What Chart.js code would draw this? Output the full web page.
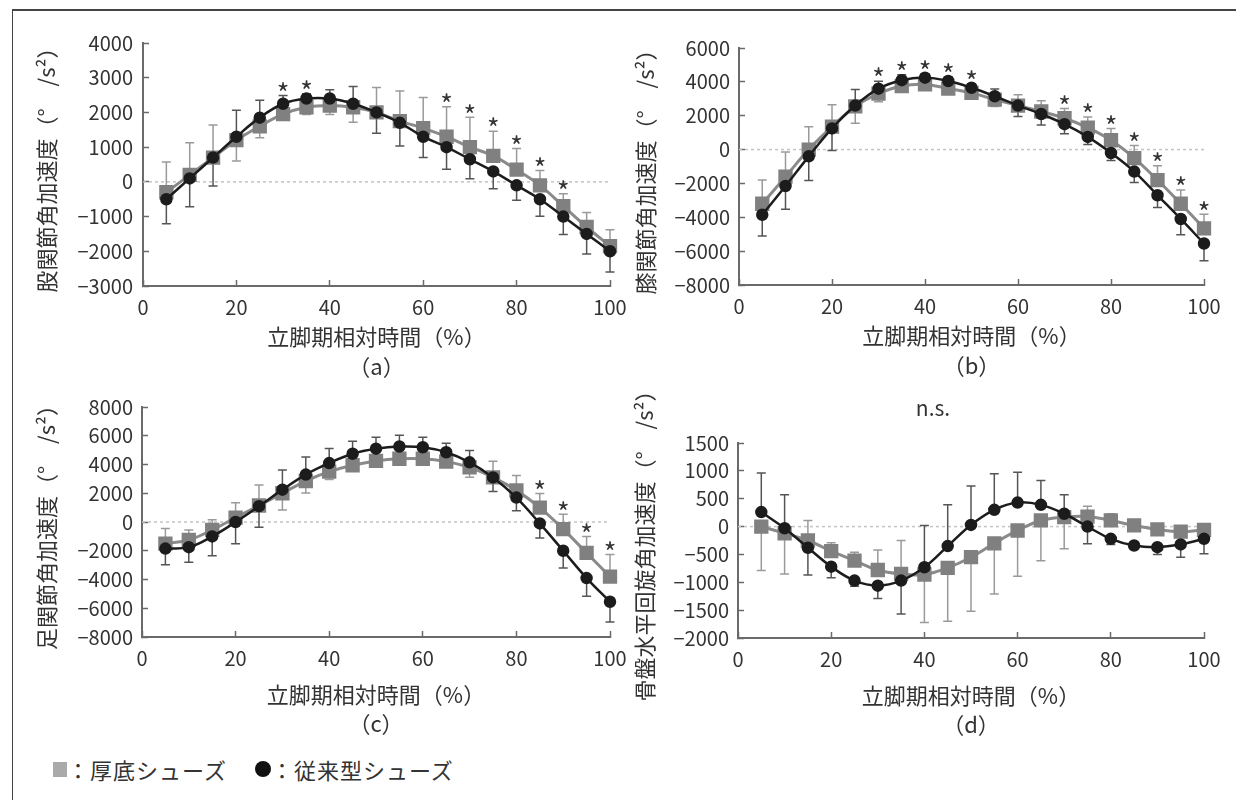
<!DOCTYPE html>
<html>
<head>
<meta charset="utf-8">
<script src="https://cdn.jsdelivr.net/npm/chart.js@4.4.1/dist/chart.umd.min.js"></script>
<style>
  body { margin: 0; background: #fff; }
  #fig { position: relative; width: 1236px; height: 800px; overflow: hidden; background: #fff;
         font-family: "Noto Sans CJK JP", sans-serif; color: #333; }
  #frame { position: absolute; left: 12px; top: 9px; right: 0; bottom: 0;
           border-left: 1.5px solid #444; border-top: 2px solid #444; }
  canvas { position: absolute; }
  #legend { position: absolute; left: 53px; top: 757px; height: 24px; display: flex; align-items: center;
            font-size: 22px; letter-spacing: 1px; white-space: nowrap; }
  .sq { width: 14px; height: 15px; background: #aaa; display: inline-block; }
  .dot { width: 16px; height: 16px; border-radius: 50%; background: #111; display: inline-block; margin-left: 28px; }
</style>
</head>
<body>
<div id="fig">
  <div id="frame"></div>
  <canvas id="cA" width="640" height="385" style="left:0;top:0"></canvas>
  <canvas id="cB" width="606" height="385" style="left:630px;top:0"></canvas>
  <canvas id="cC" width="640" height="360" style="left:0;top:380px"></canvas>
  <canvas id="cD" width="606" height="360" style="left:630px;top:380px"></canvas>
  <div id="legend"><span class="sq"></span>：厚底シューズ<span class="dot"></span>：従来型シューズ</div>
</div>
<script>
// stance phase time (%)
const timePct = [5, 10, 15, 20, 25, 30, 35, 40, 45, 50, 55, 60, 65, 70, 75, 80, 85, 90, 95, 100];

// (a) hip
const hipThick   = [-300, 200, 700, 1200, 1600, 1950, 2150, 2200, 2150, 2000, 1750, 1550, 1300, 1000, 750, 350, -100, -700, -1300, -1850];
const hipConv    = [-500, 100, 700, 1300, 1850, 2250, 2400, 2400, 2250, 2000, 1700, 1300, 1000, 650, 300, -100, -500, -1000, -1500, -2000];
const hipThickSd = [870, 930, 940, 600, 330, 150, 210, 260, 430, 720, 870, 880, 860, 860, 710, 610, 430, 360, 420, 470];
const hipConvSd  = [710, 820, 820, 760, 500, 240, 140, 250, 500, 600, 670, 600, 640, 560, 500, 430, 490, 520, 580, 600];
const hipStars   = [30, 35, 65, 70, 75, 80, 85, 90];

// (b) knee
const kneeThick   = [-3200, -1600, 0, 1350, 2550, 3300, 3750, 3850, 3600, 3350, 2950, 2600, 2250, 1850, 1300, 550, -500, -1800, -3200, -4650];
const kneeConv    = [-3850, -2150, -400, 1250, 2600, 3600, 4100, 4250, 4050, 3650, 3150, 2600, 2100, 1500, 750, -200, -1300, -2700, -4100, -5550];
const kneeThickSd = [1400, 1460, 1350, 1300, 1000, 470, 230, 310, 320, 270, 400, 640, 640, 580, 630, 700, 740, 840, 810, 830];
const kneeConvSd  = [1250, 1370, 1430, 1300, 950, 440, 320, 230, 230, 230, 430, 650, 650, 560, 450, 440, 650, 720, 930, 1020];
const kneeStars   = [30, 35, 40, 45, 50, 70, 75, 80, 85, 90, 95, 100];

// (c) ankle
const ankleThick   = [-1500, -1250, -550, 300, 1150, 2000, 2850, 3500, 3950, 4250, 4400, 4400, 4200, 3800, 3100, 2200, 1000, -500, -2150, -3800];
const ankleConv    = [-1850, -1750, -1000, 0, 1100, 2250, 3300, 4100, 4750, 5100, 5250, 5200, 4850, 4150, 3100, 1700, -100, -2000, -3900, -5550];
const ankleThickSd = [1050, 690, 710, 1040, 1420, 1170, 840, 550, 210, 220, 260, 260, 310, 690, 1130, 1040, 990, 1040, 1140, 1540];
const ankleConvSd  = [1130, 1050, 1350, 1520, 1460, 1370, 1220, 1020, 870, 800, 790, 700, 630, 820, 970, 920, 1020, 1200, 1270, 1410];
const ankleStars   = [85, 90, 95, 100];

// (d) pelvis
const pelvisThick   = [0, -120, -250, -440, -610, -780, -850, -860, -740, -550, -300, -70, 110, 170, 180, 110, 20, -50, -90, -60];
const pelvisConv    = [260, -30, -380, -720, -970, -1060, -970, -730, -350, 30, 300, 430, 390, 230, 0, -220, -340, -370, -320, -220];
const pelvisThickSd = [790, 730, 360, 150, 150, 360, 600, 860, 960, 970, 910, 820, 725, 570, 185, 120, 50, 40, 40, 40];
const pelvisConvSd  = [700, 600, 490, 200, 100, 230, 600, 750, 740, 700, 650, 545, 435, 340, 310, 100, 40, 130, 230, 270];
const pelvisStars   = [];

const xTitle = '立脚期相対時間（%）';
const FONT = '"Noto Sans CJK JP", "Noto Sans", sans-serif';
Chart.defaults.font.family = FONT;
Chart.defaults.color = '#333';

const fmt = v => v < 0 ? '\u2212' + (-v) : String(v);

// error bars, zero line, asterisks, y title
function panelPlugin(p) {
  return {
    id: 'panel' + p.id,
    beforeDatasetsDraw(chart) {
      const {ctx, chartArea} = chart;
      const xs = chart.scales.x, ys = chart.scales.y;
      ctx.save();
      const y0 = ys.getPixelForValue(0);
      ctx.strokeStyle = '#c4c4c4';
      ctx.lineWidth = 1.5;
      ctx.setLineDash([3, 3]);
      ctx.beginPath();
      ctx.moveTo(chartArea.left, y0);
      ctx.lineTo(chartArea.right, y0);
      ctx.stroke();
      ctx.setLineDash([]);
      ctx.lineWidth = 1.5;
      const bar = (t, v, end, color) => {
        const x = xs.getPixelForValue(t);
        const a = ys.getPixelForValue(v), b = ys.getPixelForValue(end);
        ctx.strokeStyle = color;
        ctx.beginPath();
        ctx.moveTo(x, a); ctx.lineTo(x, b);
        ctx.moveTo(x - 4.5, b); ctx.lineTo(x + 4.5, b);
        ctx.stroke();
      };
      timePct.forEach((t, i) => {
        const thickUp = p.thick[i] >= p.conv[i];
        bar(t, p.thick[i], p.thick[i] + (thickUp ? 1 : -1) * p.thickSd[i], '#9a9a9a');
        bar(t, p.conv[i], p.conv[i] + (thickUp ? -1 : 1) * p.convSd[i], '#555');
      });
      ctx.restore();
    },
    afterDatasetsDraw(chart) {
      const {ctx, chartArea} = chart;
      const xs = chart.scales.x, ys = chart.scales.y;
      ctx.save();
      ctx.fillStyle = '#333';
      ctx.textAlign = 'center';
      ctx.textBaseline = 'middle';
      ctx.font = '27px ' + FONT;
      p.stars.forEach(t => {
        const i = timePct.indexOf(t);
        const top = p.thick[i] >= p.conv[i] ? p.thick[i] + p.thickSd[i] : p.conv[i] + p.convSd[i];
        ctx.fillText('*', xs.getPixelForValue(t), ys.getPixelForValue(top) - 2);
      });
      if (p.note) {
        ctx.font = '21px ' + FONT;
        ctx.fillText(p.note, chart.width / 2, 28);
      }
      ctx.font = '22px ' + FONT;
      ctx.translate(p.yTitleX, (chartArea.top + chartArea.bottom) / 2);
      ctx.rotate(-Math.PI / 2);
      ctx.fillText(p.yTitle, 0, 0);
      ctx.restore();
    }
  };
}

function makeChart(p) {
  const toXY = arr => timePct.map((t, i) => ({x: t, y: arr[i]}));
  new Chart(document.getElementById(p.id), {
    type: 'line',
    data: {
      datasets: [
        { label: '従来型シューズ', data: toXY(p.conv), borderColor: '#1c1c1c', backgroundColor: '#1c1c1c',
          pointBorderColor: '#1c1c1c', borderWidth: 2.5, pointRadius: 5, pointStyle: 'circle', tension: 0.4, clip: false },
        { label: '厚底シューズ', data: toXY(p.thick), borderColor: '#8a8a8a', backgroundColor: '#808080',
          pointBorderColor: '#808080', borderWidth: 3, pointRadius: 8, pointStyle: 'rect', tension: 0.4, clip: false }
      ]
    },
    options: {
      responsive: false,
      animation: false,
      devicePixelRatio: 1,
      events: [],
      layout: { padding: p.pad },
      plugins: { legend: { display: false }, tooltip: { enabled: false } },
      scales: {
        x: {
          type: 'linear', min: 0, max: 100,
          ticks: { stepSize: 20, padding: 15, font: { size: 20 }, color: '#333', maxRotation: 0, autoSkip: false },
          grid: { drawOnChartArea: false, tickLength: -6, tickWidth: 1.5, tickColor: '#6a6a6a' },
          border: { color: '#6a6a6a', width: 2 },
          title: { display: true, text: [xTitle, p.tag], color: '#333', padding: 0,
                   font: { size: 22, lineHeight: p.titleLh / 22 } },
          afterFit(s) { s.height = p.xH; s.paddingLeft = 0; s.paddingRight = 0; }
        },
        y: {
          min: p.yMin, max: p.yMax,
          ticks: { stepSize: p.yStep, padding: p.yPad, callback: fmt, font: { size: 20 }, color: '#333', autoSkip: false },
          grid: { drawOnChartArea: false, tickLength: -6, tickWidth: 1.5, tickColor: '#6a6a6a' },
          border: { color: '#6a6a6a', width: 2 },
          afterFit(s) { s.width = p.yW; }
        }
      }
    },
    plugins: [panelPlugin(p)]
  });
}

makeChart({ id: 'cA', thick: hipThick, conv: hipConv, thickSd: hipThickSd, convSd: hipConvSd, stars: hipStars,
  yMin: -3000, yMax: 4000, yStep: 1000, yTitle: '股関節角加速度（°　/s²）', yTitleX: 47, tag: '（a）',
  pad: { left: 0, top: 43, right: 30, bottom: 3 }, yW: 143, yPad: 16, xH: 96, titleLh: 30 });
makeChart({ id: 'cB', thick: kneeThick, conv: kneeConv, thickSd: kneeThickSd, convSd: kneeConvSd, stars: kneeStars,
  yMin: -8000, yMax: 6000, yStep: 2000, yTitle: '膝関節角加速度（°　/s²）', yTitleX: 16, tag: '（b）',
  pad: { left: 0, top: 48, right: 32, bottom: 4 }, yW: 109, yPad: 15, xH: 96, titleLh: 30 });
makeChart({ id: 'cC', thick: ankleThick, conv: ankleConv, thickSd: ankleThickSd, convSd: ankleConvSd, stars: ankleStars,
  yMin: -8000, yMax: 8000, yStep: 2000, yTitle: '足関節角加速度（°　/s²）', yTitleX: 47, tag: '（c）',
  pad: { left: 0, top: 23, right: 30, bottom: 2 }, yW: 142, yPad: 15, xH: 101, titleLh: 29 });
makeChart({ id: 'cD', thick: pelvisThick, conv: pelvisConv, thickSd: pelvisThickSd, convSd: pelvisConvSd, stars: pelvisStars,
  yMin: -2000, yMax: 1500, yStep: 500, yTitle: '骨盤水平回旋角加速度（°　/s²）', yTitleX: 15, tag: '（d）', note: 'n.s.',
  pad: { left: 0, top: 63, right: 32, bottom: 1 }, yW: 108, yPad: 15, xH: 101, titleLh: 29 });
</script>
</body>
</html>
